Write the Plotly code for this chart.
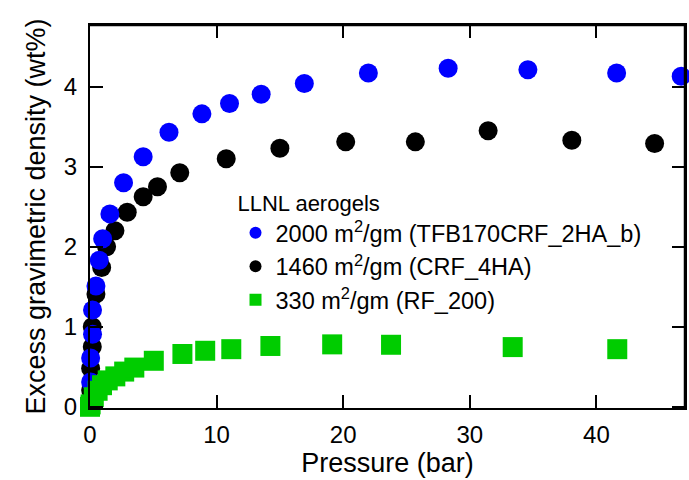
import plotly.graph_objects as go

# --- data ---
blue_x = [0.05, 0.05, 0.2, 0.2, 0.47, 0.73, 1.0, 1.57, 2.65, 4.2, 6.24, 8.84, 11.02,
          13.52, 16.93, 21.99, 28.29, 34.59, 41.6, 46.7]
blue_y = [0.31, 0.61, 0.905, 1.21, 1.51, 1.83, 2.10, 2.41, 2.80, 3.125, 3.43, 3.66, 3.79,
          3.905, 4.04, 4.17, 4.23, 4.21, 4.17, 4.13]

black_x = [0.05, 0.05, 0.18, 0.18, 0.47, 0.92, 1.31, 1.97, 2.94, 4.2, 5.33, 7.09, 10.76,
           15.0, 20.2, 25.7, 31.45, 38.06, 44.6]
black_y = [0.21, 0.48, 0.75, 1.0, 1.41, 1.74, 2.0, 2.2, 2.43, 2.625, 2.75, 2.925, 3.10,
           3.23, 3.31, 3.31, 3.45, 3.33, 3.29]

green_x = [0.0, 0.05, 0.3, 0.6, 0.95, 1.4, 2.0, 2.7, 3.5, 5.04, 7.3, 9.1, 11.16,
           14.25, 19.13, 23.78, 33.39, 41.65]
green_y = [0.0, 0.03, 0.12, 0.2, 0.27, 0.33, 0.38, 0.44, 0.49, 0.575, 0.66, 0.70, 0.72,
           0.76, 0.78, 0.775, 0.746, 0.72]

names = ["2000 m<sup>2</sup>/gm (TFB170CRF_2HA_b)",
         "1460 m<sup>2</sup>/gm (CRF_4HA)",
         "330 m<sup>2</sup>/gm (RF_200)"]

x_ticks = [0, 10, 20, 30, 40]
y_ticks = [0, 1, 2, 3, 4]
x_range = [0, 47]
y_range = [-0.015, 4.77]

FONT = "Arial, 'Liberation Sans', sans-serif"

fig = go.Figure()
fig.add_trace(go.Scatter(x=black_x, y=black_y, mode="markers", name=names[1],
                         marker=dict(color="#000000", size=19, symbol="circle"),
                         cliponaxis=False, legendrank=2))
fig.add_trace(go.Scatter(x=blue_x, y=blue_y, mode="markers", name=names[0],
                         marker=dict(color="#0000ff", size=19, symbol="circle"),
                         cliponaxis=False, legendrank=1))
fig.add_trace(go.Scatter(x=green_x, y=green_y, mode="markers", name=names[2],
                         marker=dict(color="#00cc00", size=20, symbol="square"),
                         cliponaxis=False, legendrank=3))

axis_common = dict(showgrid=False, zeroline=False, showline=True, linecolor="black",
                   linewidth=2, ticks="inside", ticklen=13, tickwidth=2, tickcolor="black",
                   mirror="ticks",
                   tickfont=dict(family=FONT, size=24, color="black"))

fig.update_layout(
    width=689, height=480,
    margin=dict(l=90, r=2, t=25, b=72),
    paper_bgcolor="white", plot_bgcolor="white",
    showlegend=True,
    xaxis=dict(range=x_range, tickvals=x_ticks,
               title=dict(text="Pressure (bar)", font=dict(family=FONT, size=27, color="black"),
                          standoff=6),
               ticklabelstandoff=4, **axis_common),
    yaxis=dict(range=y_range, tickvals=y_ticks,
               title=dict(text="Excess gravimetric density (wt%)",
                          font=dict(family=FONT, size=27, color="black"), standoff=10),
               ticklabelstandoff=6, **axis_common),
    shapes=[dict(type="line", xref="paper", yref="paper", x0=0, y0=1, x1=1, y1=1,
                 line=dict(color="black", width=2.5), layer="above"),
            dict(type="line", xref="paper", yref="paper", x0=1, y0=0, x1=1, y1=1,
                 line=dict(color="black", width=2.5), layer="above")],
    legend=dict(
        x=(236 - 90) / 597, y=(406.7 - 181) / 383, xanchor="left", yanchor="top",
        bgcolor="rgba(0,0,0,0)",
        title=dict(text="LLNL aerogels", font=dict(family=FONT, size=22, color="black")),
        font=dict(family=FONT, size=23.5, color="black"),
        itemsizing="constant", tracegroupgap=0,
    ),
)

fig.write_html("out.html")
